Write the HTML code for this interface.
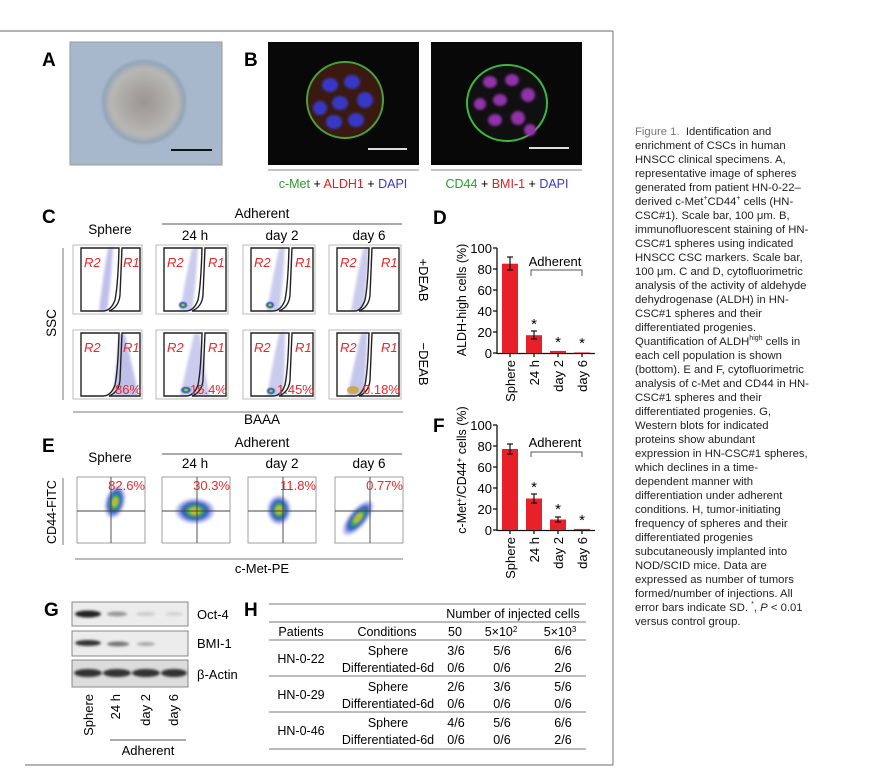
<!DOCTYPE html>
<html><head><meta charset="utf-8"><style>
html,body{margin:0;padding:0;background:#fff;}
body{width:874px;height:780px;position:relative;overflow:hidden;font-family:"Liberation Sans",sans-serif;}
svg{position:absolute;left:0;top:0;}
.cap{position:absolute;left:635px;top:125px;width:236px;font-size:11.3px;line-height:14.0px;color:#222;white-space:nowrap;}
.cap b{color:#777;font-weight:normal;}
sup{font-size:7px;line-height:0;}
</style></head><body>
<svg width="874" height="780" viewBox="0 0 874 780" font-family="Liberation Sans, sans-serif">
<defs>
<filter id="bl" x="-50%" y="-50%" width="200%" height="200%"><feGaussianBlur stdDeviation="2"/></filter>
<filter id="bl1" x="-50%" y="-50%" width="200%" height="200%"><feGaussianBlur stdDeviation="1.2"/></filter>
<radialGradient id="dens"><stop offset="0" stop-color="#e0302a"/><stop offset="0.15" stop-color="#e8d020"/><stop offset="0.35" stop-color="#30b050"/><stop offset="0.6" stop-color="#3050c8"/><stop offset="1" stop-color="#8890e0" stop-opacity="0.2"/></radialGradient>
<radialGradient id="sph"><stop offset="0" stop-color="#9a9590"/><stop offset="0.8" stop-color="#b8b8b4"/><stop offset="1" stop-color="#8aa0b8"/></radialGradient>
</defs>
<g stroke="#888" stroke-width="1.2" fill="none"><line x1="0" y1="31" x2="613" y2="31"/><line x1="613" y1="31" x2="613" y2="765"/><line x1="25" y1="765" x2="613" y2="765"/></g>
<text x="42" y="66" font-size="19" font-weight="bold">A</text>
<rect x="70" y="42" width="152" height="123" fill="#a8b8cc" stroke="#999"/>
<ellipse cx="144" cy="102" rx="42" ry="42" fill="url(#sph)" filter="url(#bl1)"/>
<line x1="171" y1="150" x2="212" y2="150" stroke="#111" stroke-width="2"/>
<text x="244" y="66" font-size="19" font-weight="bold">B</text>
<rect x="268" y="42" width="151" height="123" fill="#080808"/>
<circle cx="345" cy="100" r="38" fill="#3a1a10" stroke="#4aa03a" stroke-width="2"/>
<g fill="#3838c8" filter="url(#bl1)"><ellipse cx="330" cy="85" rx="8" ry="7"/><ellipse cx="352" cy="82" rx="8" ry="7"/><ellipse cx="365" cy="100" rx="8" ry="8"/><ellipse cx="340" cy="103" rx="8" ry="7"/><ellipse cx="320" cy="108" rx="7" ry="7"/><ellipse cx="334" cy="122" rx="8" ry="7"/><ellipse cx="356" cy="120" rx="8" ry="7"/></g>
<line x1="368" y1="149" x2="407" y2="149" stroke="#ddd" stroke-width="2"/>
<rect x="431" y="42" width="151" height="123" fill="#080808"/>
<ellipse cx="507" cy="103" rx="40" ry="38" fill="#101010" stroke="#3cb83c" stroke-width="2"/>
<g fill="#9030a8" filter="url(#bl1)"><ellipse cx="490" cy="82" rx="7" ry="6"/><ellipse cx="512" cy="80" rx="7" ry="6"/><ellipse cx="528" cy="95" rx="7" ry="7"/><ellipse cx="500" cy="100" rx="7" ry="6"/><ellipse cx="480" cy="104" rx="6" ry="6"/><ellipse cx="495" cy="120" rx="7" ry="6"/><ellipse cx="518" cy="118" rx="7" ry="7"/><ellipse cx="530" cy="130" rx="6" ry="6"/></g>
<line x1="529" y1="148" x2="569" y2="148" stroke="#ddd" stroke-width="2"/>
<line x1="268" y1="170" x2="419" y2="170" stroke="#888"/><line x1="431" y1="170" x2="582" y2="170" stroke="#888"/>
<text x="343" y="188" font-size="12.5" text-anchor="middle"><tspan fill="#2a9a2a">c-Met</tspan> + <tspan fill="#e02020">ALDH1</tspan> + <tspan fill="#3838c0">DAPI</tspan></text>
<text x="507" y="188" font-size="12.5" text-anchor="middle"><tspan fill="#2a9a2a">CD44</tspan> + <tspan fill="#e02020">BMI-1</tspan> + <tspan fill="#3838c0">DAPI</tspan></text>

<text x="42" y="223" font-size="19" font-weight="bold">C</text>
<text x="262" y="218" font-size="13.5" text-anchor="middle">Adherent</text>
<line x1="162" y1="224" x2="402" y2="224" stroke="#555"/>
<text x="110" y="234" font-size="13.5" text-anchor="middle">Sphere</text>
<text x="195" y="240" font-size="13.5" text-anchor="middle">24 h</text>
<text x="282" y="240" font-size="13.5" text-anchor="middle">day 2</text>
<text x="369" y="240" font-size="13.5" text-anchor="middle">day 6</text>
<line x1="63" y1="248" x2="63" y2="400" stroke="#777"/>
<text transform="translate(56,323) rotate(-90)" font-size="13.5" text-anchor="middle">SSC</text>
<text transform="translate(419,280) rotate(90)" font-size="13" text-anchor="middle">+DEAB</text>
<text transform="translate(419,364) rotate(90)" font-size="13" text-anchor="middle">−DEAB</text>
<line x1="73" y1="412" x2="403" y2="412" stroke="#777"/>
<text x="262" y="424" font-size="13.5" text-anchor="middle">BAAA</text>
<g>
<g transform="translate(73,245)"><rect x="0" y="0" width="69" height="69" fill="#fff" stroke="#bbb"/><path d="M26 66 Q30 30 35 4 L40 2 Q38 40 34 66Z" fill="#8c8ed8" opacity="0.55" filter="url(#bl1)"/><path d="M8 3 H46 Q45 40 42 55 Q38 66 30 66 H8Z" fill="none" stroke="#222" stroke-width="1.4"/><path d="M49 3 H67 V66 H36 Q46 62 47 50 Z" fill="none" stroke="#222" stroke-width="1.4"/><text x="11" y="22" font-size="13" font-style="italic" fill="#e8282a">R2</text><text x="50" y="22" font-size="13" font-style="italic" fill="#e8282a">R1</text></g>
<g transform="translate(156,245)"><rect x="0" y="0" width="72" height="69" fill="#fff" stroke="#bbb"/><path d="M24 66 Q30 30 36 4 L42 2 Q40 40 36 66Z" fill="#8c8ed8" opacity="0.45" filter="url(#bl1)"/><ellipse cx="27" cy="60" rx="5" ry="4" fill="url(#dens)"/><path d="M8 3 H46 Q45 40 42 55 Q38 66 30 66 H8Z" fill="none" stroke="#222" stroke-width="1.4"/><path d="M49 3 H70 V66 H36 Q46 62 47 50 Z" fill="none" stroke="#222" stroke-width="1.4"/><text x="11" y="22" font-size="13" font-style="italic" fill="#e8282a">R2</text><text x="52" y="22" font-size="13" font-style="italic" fill="#e8282a">R1</text></g>
<g transform="translate(243,245)"><rect x="0" y="0" width="72" height="69" fill="#fff" stroke="#bbb"/><path d="M24 66 Q30 30 36 4 L42 2 Q40 40 36 66Z" fill="#8c8ed8" opacity="0.45" filter="url(#bl1)"/><ellipse cx="27" cy="60" rx="5" ry="4" fill="url(#dens)"/><path d="M8 3 H46 Q45 40 42 55 Q38 66 30 66 H8Z" fill="none" stroke="#222" stroke-width="1.4"/><path d="M49 3 H70 V66 H36 Q46 62 47 50 Z" fill="none" stroke="#222" stroke-width="1.4"/><text x="11" y="22" font-size="13" font-style="italic" fill="#e8282a">R2</text><text x="52" y="22" font-size="13" font-style="italic" fill="#e8282a">R1</text></g>
<g transform="translate(329,245)"><rect x="0" y="0" width="72" height="69" fill="#fff" stroke="#bbb"/><path d="M22 66 Q28 30 34 4 L40 2 Q38 40 34 66Z" fill="#8c8ed8" opacity="0.45" filter="url(#bl1)"/><path d="M8 3 H40 Q39 40 36 55 Q32 66 26 66 H8Z" fill="none" stroke="#222" stroke-width="1.4"/><path d="M43 3 H70 V66 H30 Q40 62 41 50 Z" fill="none" stroke="#222" stroke-width="1.4"/><text x="11" y="22" font-size="13" font-style="italic" fill="#e8282a">R2</text><text x="52" y="22" font-size="13" font-style="italic" fill="#e8282a">R1</text></g>

<g transform="translate(73,330)"><rect x="0" y="0" width="69" height="69" fill="#fff" stroke="#bbb"/><path d="M40 66 Q44 30 46 4 L52 4 Q60 40 66 66Z" fill="#8c8ed8" opacity="0.55" filter="url(#bl1)"/><path d="M8 3 H46 Q45 40 42 55 Q38 66 30 66 H8Z" fill="none" stroke="#222" stroke-width="1.4"/><path d="M49 3 H67 V66 H36 Q46 62 47 50 Z" fill="none" stroke="#222" stroke-width="1.4"/><text x="11" y="22" font-size="13" font-style="italic" fill="#e8282a">R2</text><text x="50" y="22" font-size="13" font-style="italic" fill="#e8282a">R1</text><text x="42" y="64" font-size="13" fill="#e8282a">86%</text></g>
<g transform="translate(156,330)"><rect x="0" y="0" width="72" height="69" fill="#fff" stroke="#bbb"/><path d="M24 66 Q32 30 38 4 L44 4 Q48 40 54 66Z" fill="#8c8ed8" opacity="0.45" filter="url(#bl1)"/><ellipse cx="30" cy="60" rx="6" ry="4" fill="url(#dens)"/><path d="M8 3 H46 Q45 40 42 55 Q38 66 30 66 H8Z" fill="none" stroke="#222" stroke-width="1.4"/><path d="M49 3 H70 V66 H36 Q46 62 47 50 Z" fill="none" stroke="#222" stroke-width="1.4"/><text x="11" y="22" font-size="13" font-style="italic" fill="#e8282a">R2</text><text x="52" y="22" font-size="13" font-style="italic" fill="#e8282a">R1</text><text x="34" y="64" font-size="13" fill="#e8282a">15.4%</text></g>
<g transform="translate(243,330)"><rect x="0" y="0" width="72" height="69" fill="#fff" stroke="#bbb"/><path d="M24 66 Q30 30 36 4 L42 2 Q42 40 40 66Z" fill="#8c8ed8" opacity="0.45" filter="url(#bl1)"/><ellipse cx="28" cy="61" rx="5" ry="4" fill="url(#dens)"/><path d="M8 3 H46 Q45 40 42 55 Q38 66 30 66 H8Z" fill="none" stroke="#222" stroke-width="1.4"/><path d="M49 3 H70 V66 H36 Q46 62 47 50 Z" fill="none" stroke="#222" stroke-width="1.4"/><text x="11" y="22" font-size="13" font-style="italic" fill="#e8282a">R2</text><text x="52" y="22" font-size="13" font-style="italic" fill="#e8282a">R1</text><text x="34" y="64" font-size="13" fill="#e8282a">1.45%</text></g>
<g transform="translate(329,330)"><rect x="0" y="0" width="72" height="69" fill="#fff" stroke="#bbb"/><path d="M18 66 Q26 30 32 4 L38 2 Q38 40 34 66Z" fill="#8c8ed8" opacity="0.5" filter="url(#bl1)"/><ellipse cx="24" cy="60" rx="6" ry="4" fill="#d0a030" opacity="0.8"/><path d="M8 3 H40 Q39 40 36 55 Q32 66 26 66 H8Z" fill="none" stroke="#222" stroke-width="1.4"/><path d="M43 3 H70 V66 H30 Q40 62 41 50 Z" fill="none" stroke="#222" stroke-width="1.4"/><text x="11" y="22" font-size="13" font-style="italic" fill="#e8282a">R2</text><text x="52" y="22" font-size="13" font-style="italic" fill="#e8282a">R1</text><text x="34" y="64" font-size="13" fill="#e8282a">0.18%</text></g>
</g>

<text x="433" y="224" font-size="19" font-weight="bold">D</text>
<g font-size="13" text-anchor="end"><text x="492" y="253">100</text><text x="492" y="274">80</text><text x="492" y="295">60</text><text x="492" y="316">40</text><text x="492" y="337">20</text><text x="492" y="358">0</text></g>
<g stroke="#111" stroke-width="1.3"><line x1="497" y1="248" x2="497" y2="354"/><line x1="497" y1="353.5" x2="595" y2="353.5"/>
<line x1="493" y1="248" x2="497" y2="248"/><line x1="493" y1="269" x2="497" y2="269"/><line x1="493" y1="290" x2="497" y2="290"/><line x1="493" y1="311" x2="497" y2="311"/><line x1="493" y1="332" x2="497" y2="332"/><line x1="493" y1="353" x2="497" y2="353"/>
<line x1="510" y1="353" x2="510" y2="357"/><line x1="534" y1="353" x2="534" y2="357"/><line x1="558" y1="353" x2="558" y2="357"/><line x1="582" y1="353" x2="582" y2="357"/></g>
<g fill="#e8202a"><rect x="502" y="263.7" width="16" height="89.3"/><rect x="526" y="335.2" width="16" height="17.8"/><rect x="550" y="350.9" width="16" height="2.1"/><rect x="574" y="352.4" width="16" height="0.8"/></g>
<g stroke="#111" stroke-width="1.2"><line x1="510" y1="257" x2="510" y2="270"/><line x1="507" y1="257" x2="513" y2="257"/><line x1="507" y1="270" x2="513" y2="270"/><line x1="534" y1="331" x2="534" y2="339"/><line x1="531" y1="331" x2="537" y2="331"/><line x1="531" y1="339" x2="537" y2="339"/></g>
<g font-size="15" text-anchor="middle"><text x="534" y="329">*</text><text x="558" y="347">*</text><text x="582" y="348">*</text></g>
<text x="555" y="266" font-size="13" text-anchor="middle">Adherent</text>
<path d="M531 276 V270 H582 V276" fill="none" stroke="#555"/>
<text transform="translate(466,300) rotate(-90)" font-size="12.5" text-anchor="middle">ALDH-high cells (%)</text>
<g font-size="13" text-anchor="end"><text transform="translate(515,360) rotate(-90)">Sphere</text><text transform="translate(539,360) rotate(-90)">24 h</text><text transform="translate(563,360) rotate(-90)">day 2</text><text transform="translate(587,360) rotate(-90)">day 6</text></g>

<text x="433" y="432" font-size="19" font-weight="bold">F</text>
<g font-size="13" text-anchor="end"><text x="492" y="430">100</text><text x="492" y="451">80</text><text x="492" y="472">60</text><text x="492" y="493">40</text><text x="492" y="514">20</text><text x="492" y="535">0</text></g>
<g stroke="#111" stroke-width="1.3"><line x1="497" y1="425" x2="497" y2="531"/><line x1="497" y1="530.5" x2="595" y2="530.5"/>
<line x1="493" y1="425" x2="497" y2="425"/><line x1="493" y1="446" x2="497" y2="446"/><line x1="493" y1="467" x2="497" y2="467"/><line x1="493" y1="488" x2="497" y2="488"/><line x1="493" y1="509" x2="497" y2="509"/><line x1="493" y1="530" x2="497" y2="530"/>
<line x1="510" y1="530" x2="510" y2="534"/><line x1="534" y1="530" x2="534" y2="534"/><line x1="558" y1="530" x2="558" y2="534"/><line x1="582" y1="530" x2="582" y2="534"/></g>
<g fill="#e8202a"><rect x="502" y="449" width="16" height="81"/><rect x="526" y="498.5" width="16" height="31.5"/><rect x="550" y="519.5" width="16" height="10.5"/><rect x="574" y="528.9" width="16" height="1.1"/></g>
<g stroke="#111" stroke-width="1.2"><line x1="510" y1="444" x2="510" y2="454"/><line x1="507" y1="444" x2="513" y2="444"/><line x1="507" y1="454" x2="513" y2="454"/><line x1="534" y1="494" x2="534" y2="503"/><line x1="531" y1="494" x2="537" y2="494"/><line x1="531" y1="503" x2="537" y2="503"/><line x1="558" y1="517" x2="558" y2="522"/><line x1="555" y1="517" x2="561" y2="517"/><line x1="555" y1="522" x2="561" y2="522"/></g>
<g font-size="15" text-anchor="middle"><text x="534" y="492">*</text><text x="558" y="514">*</text><text x="582" y="525">*</text></g>
<text x="555" y="447" font-size="13" text-anchor="middle">Adherent</text>
<path d="M531 457 V452 H582 V457" fill="none" stroke="#555"/>
<text transform="translate(466,470) rotate(-90)" font-size="12.5" text-anchor="middle">c-Met<tspan font-size="8" dy="-4">+</tspan><tspan dy="4">/CD44</tspan><tspan font-size="8" dy="-4">+</tspan><tspan dy="4"> cells (%)</tspan></text>
<g font-size="13" text-anchor="end"><text transform="translate(515,537) rotate(-90)">Sphere</text><text transform="translate(539,537) rotate(-90)">24 h</text><text transform="translate(563,537) rotate(-90)">day 2</text><text transform="translate(587,537) rotate(-90)">day 6</text></g>

<text x="42" y="452" font-size="19" font-weight="bold">E</text>
<text x="262" y="447" font-size="13.5" text-anchor="middle">Adherent</text>
<line x1="162" y1="454" x2="402" y2="454" stroke="#555"/>
<text x="110" y="462" font-size="13.5" text-anchor="middle">Sphere</text>
<text x="195" y="468" font-size="13.5" text-anchor="middle">24 h</text>
<text x="282" y="468" font-size="13.5" text-anchor="middle">day 2</text>
<text x="369" y="468" font-size="13.5" text-anchor="middle">day 6</text>
<line x1="63" y1="478" x2="63" y2="545" stroke="#777"/>
<text transform="translate(56,512) rotate(-90)" font-size="12.5" text-anchor="middle">CD44-FITC</text>
<g stroke="#888" fill="none" stroke-width="0.8">
<rect x="77" y="477" width="68" height="66"/><rect x="162" y="477" width="68" height="66"/><rect x="248" y="477" width="68" height="66"/><rect x="335" y="477" width="68" height="66"/></g>
<ellipse cx="115" cy="502" rx="10" ry="17" transform="rotate(15 115 502)" fill="url(#dens)" filter="url(#bl1)"/>
<ellipse cx="195" cy="511" rx="20" ry="13" fill="url(#dens)" filter="url(#bl1)"/>
<ellipse cx="279" cy="510" rx="12" ry="15" fill="url(#dens)" filter="url(#bl1)"/>
<ellipse cx="358" cy="518" rx="9" ry="22" transform="rotate(40 358 518)" fill="url(#dens)" filter="url(#bl1)"/>
<g stroke="#444" stroke-width="0.9">
<line x1="111" y1="477" x2="111" y2="543"/><line x1="77" y1="511" x2="145" y2="511"/>
<line x1="197" y1="477" x2="197" y2="543"/><line x1="162" y1="511" x2="230" y2="511"/>
<line x1="283" y1="477" x2="283" y2="543"/><line x1="248" y1="511" x2="316" y2="511"/>
<line x1="370" y1="477" x2="370" y2="543"/><line x1="335" y1="511" x2="403" y2="511"/></g>
<g font-size="13" fill="#e8282a" text-anchor="end"><text x="145" y="490">82.6%</text><text x="230" y="490">30.3%</text><text x="316" y="490">11.8%</text><text x="403" y="490">0.77%</text></g>
<line x1="75" y1="559" x2="403" y2="559" stroke="#777"/>
<text x="262" y="573" font-size="13" text-anchor="middle">c-Met-PE</text>

<text x="44" y="616" font-size="19" font-weight="bold">G</text>
<rect x="72" y="602" width="116" height="24" fill="#ececec" stroke="#888"/>
<rect x="72" y="631" width="116" height="25" fill="#ececec" stroke="#888"/>
<rect x="72" y="660" width="116" height="27" fill="#dcdcdc" stroke="#888"/>
<g filter="url(#bl1)"><ellipse cx="88" cy="614" rx="13" ry="3.5" fill="#222"/><ellipse cx="117" cy="614" rx="10" ry="2.5" fill="#999"/><ellipse cx="146" cy="614" rx="10" ry="2" fill="#ccc"/><ellipse cx="174" cy="614" rx="9" ry="2" fill="#d4d4d4"/>
<ellipse cx="88" cy="643" rx="13" ry="3" fill="#333"/><ellipse cx="118" cy="644" rx="11" ry="2.5" fill="#777"/><ellipse cx="146" cy="644" rx="9" ry="2" fill="#aaa"/>
<ellipse cx="88" cy="673" rx="14" ry="4" fill="#333"/><ellipse cx="117" cy="673" rx="14" ry="4" fill="#333"/><ellipse cx="146" cy="673" rx="14" ry="4" fill="#333"/><ellipse cx="174" cy="673" rx="13" ry="4" fill="#333"/></g>
<g font-size="13"><text x="197" y="619">Oct-4</text><text x="197" y="648">BMI-1</text><text x="197" y="679">β-Actin</text></g>
<g font-size="13" text-anchor="end"><text transform="translate(93,694) rotate(-90)">Sphere</text><text transform="translate(120,694) rotate(-90)">24 h</text><text transform="translate(150,694) rotate(-90)">day 2</text><text transform="translate(178,694) rotate(-90)">day 6</text></g>
<line x1="110" y1="740" x2="186" y2="740" stroke="#555"/>
<text x="148" y="755" font-size="13" text-anchor="middle">Adherent</text>

<text x="244" y="616" font-size="19" font-weight="bold">H</text>
<g stroke="#777" stroke-width="1.1"><line x1="269" y1="604" x2="586" y2="604"/><line x1="269" y1="622" x2="586" y2="622"/><line x1="269" y1="640" x2="586" y2="640"/><line x1="269" y1="676" x2="586" y2="676"/><line x1="269" y1="712" x2="586" y2="712"/><line x1="269" y1="749" x2="586" y2="749"/></g>
<g font-size="12.5" text-anchor="middle">
<text x="513" y="618">Number of injected cells</text>
<text x="301" y="636">Patients</text><text x="387" y="636">Conditions</text><text x="455" y="636">50</text><text x="501" y="636">5×10<tspan font-size="8" dy="-4">2</tspan></text><text x="560" y="636">5×10<tspan font-size="8" dy="-4">3</tspan></text>
<text x="301" y="663">HN-0-22</text><text x="301" y="699">HN-0-29</text><text x="301" y="735">HN-0-46</text>
<text x="388" y="655">Sphere</text><text x="388" y="672">Differentiated-6d</text>
<text x="388" y="691">Sphere</text><text x="388" y="708">Differentiated-6d</text>
<text x="388" y="727">Sphere</text><text x="388" y="744">Differentiated-6d</text>
<text x="456" y="655">3/6</text><text x="502" y="655">5/6</text><text x="563" y="655">6/6</text>
<text x="456" y="672">0/6</text><text x="502" y="672">0/6</text><text x="563" y="672">2/6</text>
<text x="456" y="691">2/6</text><text x="502" y="691">3/6</text><text x="563" y="691">5/6</text>
<text x="456" y="708">0/6</text><text x="502" y="708">0/6</text><text x="563" y="708">0/6</text>
<text x="456" y="727">4/6</text><text x="502" y="727">5/6</text><text x="563" y="727">6/6</text>
<text x="456" y="744">0/6</text><text x="502" y="744">0/6</text><text x="563" y="744">2/6</text>
</g>
</svg>
<div class="cap"><b>Figure 1.</b>&nbsp; Identification and<br>enrichment of CSCs in human<br>HNSCC clinical specimens. A,<br>representative image of spheres<br>generated from patient HN-0-22–<br>derived c-Met<sup>+</sup>CD44<sup>+</sup> cells (HN-<br>CSC#1). Scale bar, 100 μm. B,<br>immunofluorescent staining of HN-<br>CSC#1 spheres using indicated<br>HNSCC CSC markers. Scale bar,<br>100 μm. C and D, cytofluorimetric<br>analysis of the activity of aldehyde<br>dehydrogenase (ALDH) in HN-<br>CSC#1 spheres and their<br>differentiated progenies.<br>Quantification of ALDH<sup>high</sup> cells in<br>each cell population is shown<br>(bottom). E and F, cytofluorimetric<br>analysis of c-Met and CD44 in HN-<br>CSC#1 spheres and their<br>differentiated progenies. G,<br>Western blots for indicated<br>proteins show abundant<br>expression in HN-CSC#1 spheres,<br>which declines in a time-<br>dependent manner with<br>differentiation under adherent<br>conditions. H, tumor-initiating<br>frequency of spheres and their<br>differentiated progenies<br>subcutaneously implanted into<br>NOD/SCID mice. Data are<br>expressed as number of tumors<br>formed/number of injections. All<br>error bars indicate SD. <sup>*</sup>, <i>P</i> &lt; 0.01<br>versus control group.</div>
</body></html>
